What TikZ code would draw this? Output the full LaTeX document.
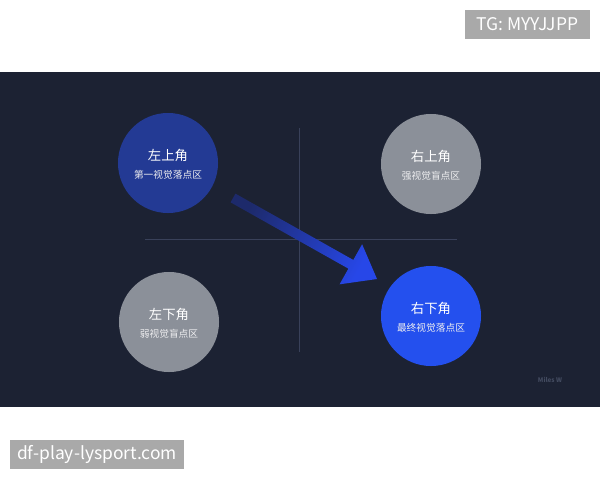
\documentclass[tikz,border=0pt]{standalone}
\usepackage{fontspec}
\setmainfont{Noto Sans CJK SC}
\usetikzlibrary{calc}

\definecolor{bgnavy}{HTML}{1C2233}
\definecolor{axisgrey}{HTML}{39415A}
\definecolor{zonedark}{HTML}{233A94}
\definecolor{zonegrey}{HTML}{8B9099}
\definecolor{zonebright}{HTML}{2450EE}
\definecolor{arrowdark}{HTML}{1D2A6B}
\definecolor{arrowbright}{HTML}{2747E8}
\definecolor{tagfill}{HTML}{A9A9A9}
\definecolor{signgrey}{HTML}{434B60}

\begin{document}
\begin{tikzpicture}[x=0.025cm,y=-0.025cm]
    \tikzstyle{zone}=[circle,minimum size=2.5cm,inner sep=0pt]
    \tikzstyle{title}=[text=white,font=\fontsize{9.5}{11}\selectfont]
    \tikzstyle{subtitle}=[text=white!85!zonegrey,font=\fontsize{6.9}{8}\selectfont]
    \tikzstyle{axis}=[draw=axisgrey,line width=0.6pt]
    \tikzstyle{tag}=[fill=tagfill,text=white,inner sep=0pt,font=\fontsize{12.4}{14}\selectfont]

    \useasboundingbox (0,0) rectangle (600,480);
    \fill[bgnavy] (0,72) rectangle (600,407);

    % Draw the two axes
    \coordinate (V-top) at (299,128);
    \coordinate (V-bot) at (299,352);
    \coordinate (H-left) at (145,239);
    \coordinate (H-right) at (457,239);
    \draw[axis] (V-top) -- (V-bot);
    \draw[axis] (H-left) -- (H-right);

    % Draw the four corner zones
    \foreach \name / \x / \y / \col / \head / \sub in {
        tl/168/163/zonedark/左上角/第一视觉落点区,
        tr/431/164/zonegrey/右上角/强视觉盲点区,
        bl/169/322/zonegrey/左下角/弱视觉盲点区,
        br/431/316/zonebright/右下角/最终视觉落点区}
    {
        \node[zone,fill=\col] (Q-\name) at (\x,\y) {};
        \node[title] at ($(Q-\name)+(0,-8)$) {\head};
        \node[subtitle] at ($(Q-\name)+(0,12)$) {\sub};
    }

    % The reading path arrow
    \coordinate (A-tail) at (233,198);
    \coordinate (A-tip) at (377,279);
    \coordinate (A-neck) at ($(A-tip)!0.75cm!(A-tail)$);
    \shade[left color=arrowdark,right color=arrowbright,shading angle=61]
        ($(A-tail)!0.125cm!90:(A-tip)$) -- ($(A-neck)!0.125cm!90:(A-tip)$)
        -- ($(A-neck)!0.575cm!90:(A-tip)$) -- (A-tip)
        -- ($(A-neck)!0.575cm!-90:(A-tip)$) -- ($(A-neck)!0.125cm!-90:(A-tip)$)
        -- ($(A-tail)!0.125cm!-90:(A-tip)$) -- cycle;

    \node[text=signgrey,font=\fontsize{4.5}{5}\selectfont\bfseries] (sign) at (550,380) {Miles W};

    % Watermark tags
    \node[tag,minimum width=3.125cm,minimum height=0.725cm] (tg) at (527.5,24.5) {TG: MYYJJPP};
    \node[tag,minimum width=4.35cm,minimum height=0.725cm] (site) at (97,454.5) {df-play-lysport.com};
\end{tikzpicture}
\end{document}
